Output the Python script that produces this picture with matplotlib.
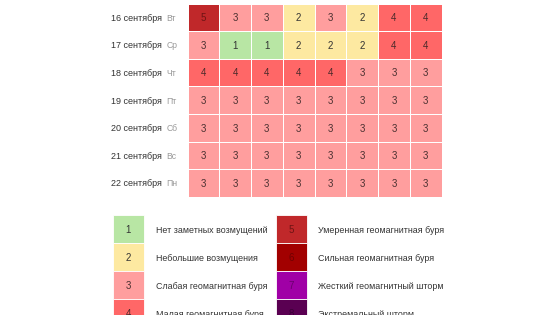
import numpy as np
import matplotlib
matplotlib.use("Agg")
import matplotlib.pyplot as plt
from matplotlib.colors import ListedColormap, BoundaryNorm
from matplotlib.patches import Rectangle

plt.rcParams['font.family'] = ['Liberation Sans', 'DejaVu Sans']

# data
dates = ["16 сентября", "17 сентября", "18 сентября", "19 сентября",
         "20 сентября", "21 сентября", "22 сентября"]
weekdays = ["Вт", "Ср", "Чт", "Пт", "Сб", "Вс", "Пн"]
kp = np.array([
    [5, 3, 3, 2, 3, 2, 4, 4],
    [3, 1, 1, 2, 2, 2, 4, 4],
    [4, 4, 4, 4, 4, 3, 3, 3],
    [3, 3, 3, 3, 3, 3, 3, 3],
    [3, 3, 3, 3, 3, 3, 3, 3],
    [3, 3, 3, 3, 3, 3, 3, 3],
    [3, 3, 3, 3, 3, 3, 3, 3],
])
levels = [1, 2, 3, 4, 5, 6, 7, 8]
level_names = ["Нет заметных возмущений", "Небольшие возмущения",
               "Слабая геомагнитная буря", "Малая геомагнитная буря",
               "Умеренная геомагнитная буря", "Сильная геомагнитная буря",
               "Жесткий геомагнитный шторм", "Экстремальный шторм"]
level_colors = ["#b8e6a4", "#fde9a1", "#ff9e9e", "#ff6767",
                "#c0282a", "#a20000", "#a000a6", "#5a0052"]
text_colors = ["#333333", "#333333", "#4a3030", "#4a2a2a",
               "#6e1414", "#700000", "#6a006e", "#3a0036"]

cmap = ListedColormap(level_colors)
norm = BoundaryNorm(np.arange(0.5, 9.5, 1), cmap.N)

fig = plt.figure(figsize=(5.6, 3.15), dpi=100)
ax = fig.add_axes([0, 0, 1, 1])
ax.set_xlim(0, 560)
ax.set_ylim(315, 0)
ax.axis("off")

# grid of forecast cells (pixel layout)
x0, cw = 187.5, 31.75
y0, ch = 3.5, 27.6
nr, nc = kp.shape
xe = x0 + cw * np.arange(nc + 1)
ye = y0 + ch * np.arange(nr + 1)
ax.pcolormesh(xe, ye, kp, cmap=cmap, norm=norm, edgecolors="white", linewidth=0.6)
for r in range(nr):
    yc = y0 + ch * (r + 0.5)
    for c in range(nc):
        v = kp[r, c]
        ax.text(x0 + cw * (c + 0.5), yc, str(v), ha="center", va="center_baseline",
                fontsize=7, color=text_colors[v - 1])
    ax.text(162, yc, dates[r], ha="right", va="center_baseline", fontsize=6.5, color="#333333")
    ax.text(166.5, yc, weekdays[r], ha="left", va="center_baseline", fontsize=6.2, color="#999999")

# legend
lx = [112.5, 275.5]
ly0, lh, lw = 215.3, 28, 31.5
for i, lv in enumerate(levels):
    col, row = divmod(i, 4)
    y = ly0 + lh * row
    ax.add_patch(Rectangle((lx[col], y), lw, lh, facecolor=level_colors[i],
                           edgecolor="white", linewidth=0.6))
    ax.text(lx[col] + lw / 2, y + lh / 2, str(lv), ha="center", va="center_baseline",
            fontsize=7, color=text_colors[i])
    ax.text(lx[col] + 43, y + lh / 2, level_names[i], ha="left", va="center_baseline",
            fontsize=6.4, color="#333333")

fig.savefig("out.png", dpi=100)
